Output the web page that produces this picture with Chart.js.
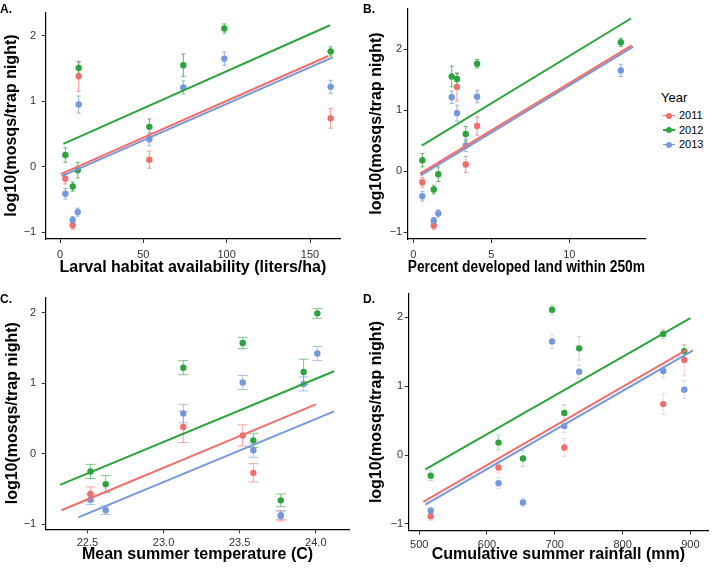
<!DOCTYPE html>
<html>
<head>
<meta charset="utf-8">
<script src="https://cdn.jsdelivr.net/npm/chart.js@4.4.1/dist/chart.umd.min.js"></script>
<style>
    body { margin: 0; background: #fff; width: 712px; height: 570px; position: relative; overflow: hidden;
           font-family: 'Liberation Sans', Arial, sans-serif; }
    .panel { position: absolute; }
    .tag { position: absolute; font-weight: bold; font-size: 12px; line-height: 12px; color: #000; }
    #legend { position: absolute; left: 661px; top: 90px; color: #000; }
    #legend .ttl { font-size: 13px; line-height: 16px; margin-bottom: 2px; }
    #legend .row { position: relative; height: 14.6px; font-size: 11px; line-height: 14.6px; padding-left: 18px; }
    #legend .key { position: absolute; left: 2px; top: 6.5px; width: 12px; height: 1.5px; }
    #legend .dot { position: absolute; left: 5px; top: 4.5px; width: 6px; height: 6px; border-radius: 50%; }
</style>
</head>
<body>
<div class="panel" style="left:0;top:0"><canvas id="cA" width="350" height="285"></canvas></div>
<div class="panel" style="left:360px;top:0"><canvas id="cB" width="295" height="285"></canvas></div>
<div class="panel" style="left:0;top:285px"><canvas id="cC" width="355" height="285"></canvas></div>
<div class="panel" style="left:360px;top:285px"><canvas id="cD" width="352" height="285"></canvas></div>
<div class="tag" style="left:0;top:3px">A.</div>
<div class="tag" style="left:363px;top:3px">B.</div>
<div class="tag" style="left:0;top:293px">C.</div>
<div class="tag" style="left:363px;top:293px">D.</div>
<div id="legend"><div class="ttl">Year</div></div>
<script>
    var years = ['2011', '2012', '2013'];
    var colors = ['#EF6F6C', '#2CA33B', '#7597DB'];

    // 8 trap sites, same order in every site array
    var habitat = [7.6, 3.2, 10.6, 98.6, 53.6, 74, 162.4, 11.2];
    var developed = [1.31, 0.58, 1.6, 13.3, 3.36, 2.46, 4.09, 2.8];
    var rainfall = [517, 617, 653, 696, 714, 736, 860, 891];

    var mosq2011 = [-0.89, -0.18, null, null, 0.11, null, 0.74, 1.38];
    var mosq2012 = [-0.30, 0.18, -0.05, 2.11, 0.61, 1.55, 1.76, 1.51];
    var mosq2013 = [-0.81, -0.41, -0.69, 1.65, 0.42, 1.21, 1.22, 0.95];
    var se2011 = [0.06, 0.08, null, null, 0.13, null, 0.15, 0.23];
    var se2012 = [0.07, 0.11, 0.12, 0.07, 0.12, 0.17, 0.07, 0.09];
    var se2013 = [0.05, 0.08, 0.06, 0.10, 0.10, 0.10, 0.10, 0.13];

    // temperature panel
    var temperature = [22.52, 22.62, 23.13, 23.52, 23.59, 23.77, 23.92, 24.01];
    var temp2011 = [-0.57, null, 0.38, 0.26, -0.27, -0.88, null, null];
    var temp2012 = [-0.25, -0.43, 1.22, 1.57, 0.19, -0.66, 1.16, 1.99];
    var temp2013 = [-0.65, -0.80, 0.57, 1.01, 0.05, -0.87, 0.99, 1.42];
    var tempSe2011 = [0.10, null, 0.22, 0.15, 0.13, 0.07, null, null];
    var tempSe2012 = [0.10, 0.12, 0.10, 0.08, 0.10, 0.09, 0.18, 0.07];
    var tempSe2013 = [0.07, 0.06, 0.13, 0.10, 0.10, 0.06, 0.10, 0.10];

    // fitted lines per year: [x start, x end], [y start, y end]
    var fitHabitatX = [[0.4, 161], [2, 162], [1, 163.6]];
    var fitHabitatY = [[-0.11, 1.69], [0.35, 2.16], [-0.14, 1.67]];
    var fitDevelopedX = [[0.43, 14.0], [0.54, 13.95], [0.47, 14.1]];
    var fitDevelopedY = [[-0.04, 2.06], [0.42, 2.50], [-0.07, 2.04]];
    var fitTempX = [[22.33, 24.0], [22.32, 24.12], [22.44, 24.12]];
    var fitTempY = [[-0.80, 0.70], [-0.44, 1.17], [-0.90, 0.60]];
    var fitRainX = [[506, 895], [509, 900], [509, 904]];
    var fitRainY = [[-0.68, 1.53], [-0.21, 1.99], [-0.72, 1.52]];

    var ticksHabitat = [0, 50, 100, 150];
    var ticksDeveloped = [0, 5, 10];
    var ticksTemp = [22.5, 23.0, 23.5, 24.0];
    var ticksRain = [500, 600, 700, 800, 900];
    var ticksMosq = [-1, 0, 1, 2];

    var yTitle = 'log10(mosqs/trap night)';

    Chart.defaults.font.family = "'Liberation Sans', Arial, sans-serif";

    var errorBars = {
        id: 'errorBars',
        beforeDatasetsDraw: function (chart, args, opts) {
            var ctx = chart.ctx, xs = chart.scales.x, ys = chart.scales.y;
            chart.data.datasets.forEach(function (ds) {
                if (!ds.errors) return;
                ctx.save();
                ctx.strokeStyle = ds.borderColor;
                ctx.globalAlpha = opts.alpha;
                ctx.lineWidth = 1;
                ds.data.forEach(function (p, j) {
                    var e = ds.errors[j];
                    if (e == null) return;
                    var px = xs.getPixelForValue(p.x);
                    var t = ys.getPixelForValue(p.y + e), b = ys.getPixelForValue(p.y - e);
                    ctx.beginPath();
                    ctx.moveTo(px, t); ctx.lineTo(px, b);
                    ctx.moveTo(px - opts.cap, t); ctx.lineTo(px + opts.cap, t);
                    ctx.moveTo(px - opts.cap, b); ctx.lineTo(px + opts.cap, b);
                    ctx.stroke();
                });
                ctx.restore();
            });
        }
    };

    function points(xv, yv, ev) {
        var pts = [], errs = [];
        xv.forEach(function (x, i) {
            if (yv[i] == null) return;
            pts.push({ x: x, y: yv[i] });
            errs.push(ev[i]);
        });
        return { pts: pts, errs: errs };
    }

    function fmtMosq(v) {
        return v < 0 ? '\u2212' + Math.abs(v) : String(v);
    }

    function makePanel(id, p) {
        var datasets = [];
        years.forEach(function (yr, k) {
            var d = points(p.x, p.y[k], p.se[k]);
            datasets.push({
                type: 'scatter', label: yr, data: d.pts, errors: d.errs,
                backgroundColor: colors[k], borderColor: colors[k],
                pointRadius: 3.2, pointBorderWidth: 0, order: 3 - k
            });
        });
        years.forEach(function (yr, k) {
            datasets.push({
                type: 'line', label: yr + ' fit',
                data: [{ x: p.fitX[k][0], y: p.fitY[k][0] }, { x: p.fitX[k][1], y: p.fitY[k][1] }],
                borderColor: colors[k], borderWidth: 2, pointRadius: 0, fill: false,
                order: k === 0 ? -1 : 0
            });
        });

        new Chart(document.getElementById(id), {
            data: { datasets: datasets },
            options: {
                responsive: false,
                animation: false,
                events: [],
                layout: { padding: p.pad },
                plugins: {
                    legend: { display: false },
                    tooltip: { enabled: false },
                    errorBars: { cap: p.cap, alpha: p.errAlpha }
                },
                scales: {
                    x: {
                        type: 'linear', min: p.xMin, max: p.xMax,
                        afterBuildTicks: function (s) { s.ticks = p.ticks.map(function (v) { return { value: v }; }); },
                        afterFit: function (s) { s.height = p.xH; },
                        grid: { drawOnChartArea: false, tickLength: 4, color: '#333' },
                        border: { display: true, color: '#000', width: 1.2 },
                        ticks: { color: '#333', font: { size: 11 }, padding: p.xTickPad, maxRotation: 0,
                                  callback: p.fmt },
                        title: { display: true, text: p.xTitle, color: '#000',
                                 font: { size: 16, weight: 'bold' }, padding: { top: 0, bottom: p.xTitlePad } }
                    },
                    y: {
                        min: p.yMin, max: p.yMax,
                        afterBuildTicks: function (s) { s.ticks = ticksMosq.map(function (v) { return { value: v }; }); },
                        afterFit: function (s) { s.width = p.yW; },
                        grid: { drawOnChartArea: false, tickLength: 4, color: '#333' },
                        border: { display: true, color: '#000', width: 1.2 },
                        ticks: { color: '#333', font: { size: 11 }, padding: p.yTickPad, callback: fmtMosq },
                        title: { display: true, text: yTitle, color: '#000',
                                 font: { size: 16, weight: 'bold' }, padding: { top: p.yTitlePad, bottom: 0 } }
                    }
                }
            },
            plugins: [errorBars]
        });
    }

    makePanel('cA', {
        x: habitat, y: [mosq2011, mosq2012, mosq2013], se: [se2011, se2012, se2013],
        fitX: fitHabitatX, fitY: fitHabitatY, ticks: ticksHabitat,
        fmt: function (v) { return String(v); },
        xTitle: 'Larval habitat availability (liters/ha)',
        xMin: -8.6, xMax: 168, yMin: -1.1, yMax: 2.36,
        pad: { left: 0, right: 10, top: 3, bottom: 0 }, yW: 45.7, xH: 46,
        xTickPad: 5, yTickPad: 5.5, xTitlePad: 8, yTitlePad: 2.4, cap: 2, errAlpha: 0.75
    });

    makePanel('cB', {
        x: developed, y: [mosq2011, mosq2012, mosq2013], se: [se2011, se2012, se2013],
        fitX: fitDevelopedX, fitY: fitDevelopedY, ticks: ticksDeveloped,
        fmt: function (v) { return String(v); },
        xTitle: 'Percent developed land within 250m',
        xMin: -0.36, xMax: 14.85, yMin: -1.11, yMax: 2.67,
        pad: { left: 0, right: 10, top: 3, bottom: 0 }, yW: 47.7, xH: 46,
        xTickPad: 5, yTickPad: 1.5, xTitlePad: 8, yTitlePad: 7, cap: 2, errAlpha: 0.75
    });

    makePanel('cC', {
        x: temperature, y: [temp2011, temp2012, temp2013], se: [tempSe2011, tempSe2012, tempSe2013],
        fitX: fitTempX, fitY: fitTempY, ticks: ticksTemp,
        fmt: function (v) { return v.toFixed(1); },
        xTitle: 'Mean summer temperature (C)',
        xMin: 22.226, xMax: 24.22, yMin: -1.07, yMax: 2.22,
        pad: { left: 0, right: 5.7, top: 8.3, bottom: 0 }, yW: 45.7, xH: 40.7,
        xTickPad: 3.5, yTickPad: 5.5, xTitlePad: 6, yTitlePad: 2.9, cap: 5, errAlpha: 0.6
    });

    makePanel('cD', {
        x: rainfall, y: [mosq2011, mosq2012, mosq2013], se: [se2011, se2012, se2013],
        fitX: fitRainX, fitY: fitRainY, ticks: ticksRain,
        fmt: function (v) { return String(v); },
        xTitle: 'Cumulative summer rainfall (mm)',
        xMin: 484.5, xMax: 926, yMin: -1.1, yMax: 2.35,
        pad: { left: 0, right: 1, top: 8.3, bottom: 0 }, yW: 48.7, xH: 39.3,
        xTickPad: 4, yTickPad: 1.5, xTitlePad: 6, yTitlePad: 7, cap: 2.5, errAlpha: 0.3
    });

    // legend
    var legend = document.getElementById('legend');
    years.forEach(function (yr, k) {
        var row = document.createElement('div');
        row.className = 'row';
        row.innerHTML = '<span class="key" style="background:' + colors[k] + '"></span>' +
            '<span class="dot" style="background:' + colors[k] + '"></span>' + yr;
        legend.appendChild(row);
    });
</script>
</body>
</html>
